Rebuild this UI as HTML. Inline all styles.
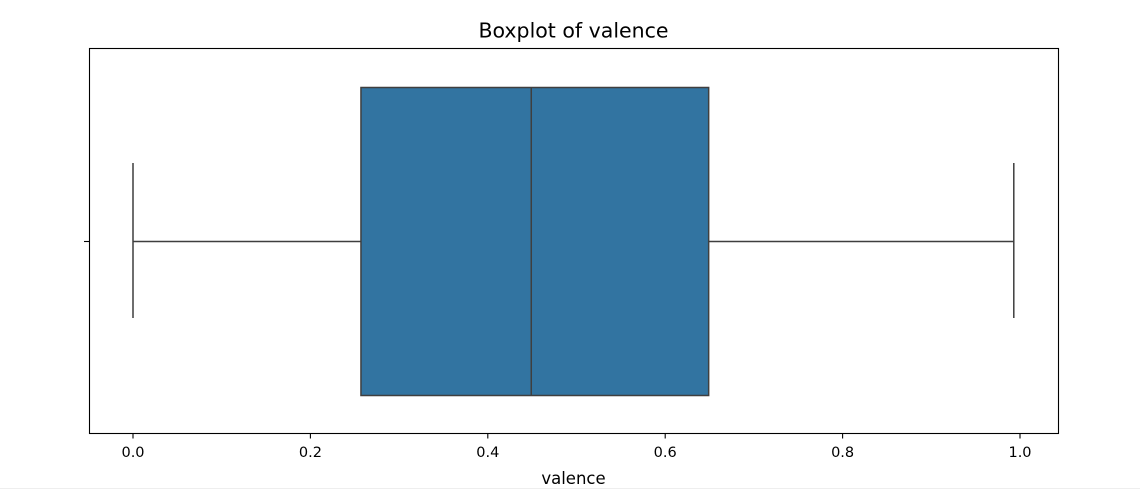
<!DOCTYPE html>
<html><head><meta charset="utf-8"><style>
html,body{margin:0;padding:0;background:#fff;}
svg{display:block;font-family:"DejaVu Sans","Liberation Sans",sans-serif;}
</style></head><body>
<svg id="chart" width="1140" height="489" viewBox="0 0 1140 489" xmlns="http://www.w3.org/2000/svg">
<rect x="0" y="0" width="1140" height="489" fill="#fff"/>
<text x="573.5" y="37.5" font-size="20.5" text-anchor="middle" fill="#000">Boxplot of valence</text>
<g id="plot"></g>
<rect x="89.5" y="48.5" width="969" height="385" fill="none" stroke="#000" stroke-width="1.1"/>
<line x1="84" y1="241.5" x2="89" y2="241.5" stroke="#000" stroke-width="1.1"/>
<text x="573.5" y="484" font-size="16.5" text-anchor="middle" fill="#000">valence</text>
<line x1="0" y1="488.5" x2="1140" y2="488.5" stroke="#eeeeee" stroke-width="1"/>
</svg>
<script>
const tickValues = [0.0, 0.2, 0.4, 0.6, 0.8, 1.0];
const tickLabels = ["0.0", "0.2", "0.4", "0.6", "0.8", "1.0"];
const whiskerLow = [0.0];
const q1 = [0.257];
const median = [0.449];
const q3 = [0.649];
const whiskerHigh = [0.993];

const NS = "http://www.w3.org/2000/svg";
const x = v => 133 + v * 887;
const g = document.getElementById('plot');
function mk(tag, attrs){const e=document.createElementNS(NS,tag);for(const k in attrs)e.setAttribute(k,attrs[k]);g.appendChild(e);return e;}
const cy = 241.5, boxTop = 87.5, boxBot = 395.5, capTop = 163, capBot = 318;
const edge = "#3f3f3f";
let e;
e = mk('line',{x1:x(whiskerLow[0]),y1:cy,x2:x(q1[0]),y2:cy,stroke:edge,'stroke-width':1.5});


e = mk('line',{x1:x(q3[0]),y1:cy,x2:x(whiskerHigh[0]),y2:cy,stroke:edge,'stroke-width':1.5});


e = mk('line',{x1:x(whiskerLow[0]),y1:capTop,x2:x(whiskerLow[0]),y2:capBot,stroke:edge,'stroke-width':1.5});


e = mk('line',{x1:x(whiskerHigh[0]),y1:capTop,x2:x(whiskerHigh[0]),y2:capBot,stroke:edge,'stroke-width':1.5});


e = mk('rect',{x:x(q1[0]),y:boxTop,width:x(q3[0])-x(q1[0]),height:boxBot-boxTop,fill:'#3274a1',stroke:edge,'stroke-width':1.5});


e = mk('line',{x1:x(median[0]),y1:boxTop,x2:x(median[0]),y2:boxBot,stroke:edge,'stroke-width':1.5});


tickValues.forEach((v,i)=>{
  const t = mk('line',{x1:x(v),y1:433.5,x2:x(v),y2:438.5,stroke:'#000','stroke-width':1.1});
  
  
  const l = mk('text',{x:x(v),y:457,'font-size':14.5,'text-anchor':'middle',fill:'#000'});
  l.textContent = tickLabels[i];
  
  
});
</script>
</body></html>
